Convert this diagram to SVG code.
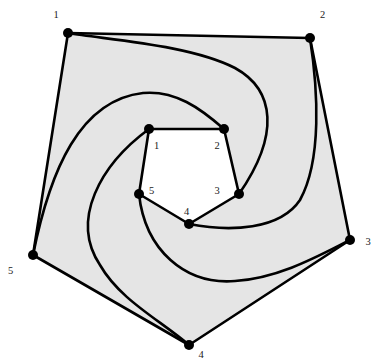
<svg xmlns="http://www.w3.org/2000/svg" width="371" height="358" viewBox="0 0 371 358">
<style>
.region{fill:#e5e5e5;fill-rule:evenodd;stroke:none}
.edge{fill:none;stroke:#000;stroke-width:2.6;stroke-linecap:round;stroke-linejoin:round}
.dot{fill:#000}
.lbl{font-family:"Liberation Serif","Times New Roman",serif;font-size:10.5px;fill:#222;text-anchor:middle}
</style>
<rect width="371" height="358" fill="#fff"/>
<path class="region" d="M68,33 L310,38 L350,240 L189,345 L33,255 Z M149,129 L224,129 L239,194 L189,224 L139,194 Z"/>
<g id="connectors">
<path class="edge" d="M68,33 L310,38 L350,240 L189,345 L33,255 Z"/>
<path class="edge" d="M149,129 L224,129 L239,194 L189,224 L139,194 Z"/>
<path class="edge" d="M68,33 C110,40 190,45 235,68 C275,90 280,135 239,194"/>
<path class="edge" d="M33,255 C50,170 80,100 143,93 C175,90 200,108 224,129"/>
<path class="edge" d="M310,38 C318,90 322,160 300,200 C280,230 230,232 189,224"/>
<path class="edge" d="M139,194 C145,250 185,285 235,281 C280,278 320,255 350,240"/>
<path class="edge" d="M149,129 C100,165 70,220 100,265 C120,300 160,320 189,345"/>
</g>
<g id="outer1"><circle class="dot" cx="68" cy="33" r="5"/><text class="lbl" x="56" y="17.5">1</text></g>
<g id="outer2"><circle class="dot" cx="310" cy="38" r="5"/><text class="lbl" x="322.7" y="17.5">2</text></g>
<g id="outer3"><circle class="dot" cx="350" cy="240" r="5"/><text class="lbl" x="368" y="244.5">3</text></g>
<g id="outer4"><circle class="dot" cx="189" cy="345" r="5"/><text class="lbl" x="201" y="357.5">4</text></g>
<g id="outer5"><circle class="dot" cx="33" cy="255" r="5"/><text class="lbl" x="10.7" y="274">5</text></g>
<g id="inner1"><circle class="dot" cx="149" cy="129" r="5"/><text class="lbl" x="156.7" y="148.5">1</text></g>
<g id="inner2"><circle class="dot" cx="224" cy="129" r="5"/><text class="lbl" x="217" y="148.5">2</text></g>
<g id="inner3"><circle class="dot" cx="239" cy="194" r="5"/><text class="lbl" x="217" y="193.5">3</text></g>
<g id="inner4"><circle class="dot" cx="189" cy="224" r="5"/><text class="lbl" x="186.7" y="214.5">4</text></g>
<g id="inner5"><circle class="dot" cx="139" cy="194" r="5"/><text class="lbl" x="151.7" y="193.5">5</text></g>
</svg>
